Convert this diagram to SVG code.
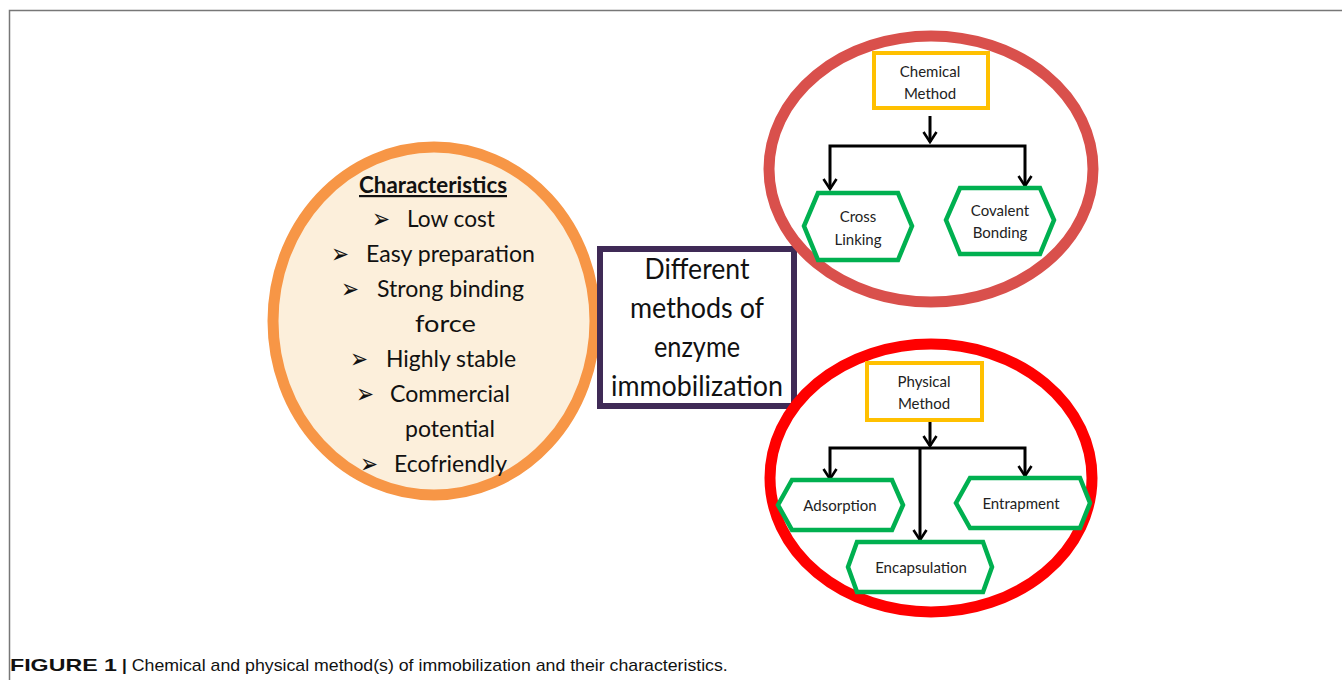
<svg xmlns="http://www.w3.org/2000/svg" width="1342" height="680" viewBox="0 0 1342 680">
<defs>
<style>
.t{font-family:Lato,"Open Sans","Liberation Sans",sans-serif;fill:#111}
.c{font-size:24px}
.b{font-family:"DejaVu Sans",sans-serif;font-size:27px;fill:#111}
.s{font-size:15px;fill:#222;text-anchor:middle}
.ybox{fill:#fff;stroke:#FFC000;stroke-width:4}
.hex{fill:#fff;stroke:#00B050;stroke-width:4.5;stroke-linejoin:miter}
.ln{fill:none;stroke:#000;stroke-width:3}
</style>
<marker id="ah" viewBox="0 0 16 16" refX="14" refY="8" markerWidth="16" markerHeight="16" markerUnits="userSpaceOnUse" orient="auto-start-reverse">
<path d="M4,1.5 L14,8 L4,14.5" fill="none" stroke="#000" stroke-width="2.6"/>
</marker>
</defs>
<rect width="1342" height="680" fill="#fff"/>
<path d="M9.5,680 V10.5 H1342" fill="none" stroke="#777" stroke-width="1.5"/>

<g id="characteristics">
<ellipse cx="434" cy="321" rx="161" ry="174" fill="#FCEFDB" stroke="#F79646" stroke-width="11"/>
<text class="t" x="433" y="193" font-size="22" font-weight="bold" text-anchor="middle" text-decoration="underline" textLength="148" lengthAdjust="spacingAndGlyphs">Characteristics</text>
<text class="b" x="372" y="228" textLength="18" lengthAdjust="spacingAndGlyphs">➢</text><text class="t c" x="407" y="227" textLength="88" lengthAdjust="spacingAndGlyphs">Low cost</text>
<text class="b" x="331" y="263" textLength="18" lengthAdjust="spacingAndGlyphs">➢</text><text class="t c" x="366" y="262" textLength="169" lengthAdjust="spacingAndGlyphs">Easy preparation</text>
<text class="b" x="341" y="298" textLength="18" lengthAdjust="spacingAndGlyphs">➢</text><text class="t c" x="377" y="297" textLength="147" lengthAdjust="spacingAndGlyphs">Strong binding</text>
<text class="t c" x="415" y="332" textLength="61" lengthAdjust="spacingAndGlyphs">force</text>
<text class="b" x="350" y="368" textLength="18" lengthAdjust="spacingAndGlyphs">➢</text><text class="t c" x="386" y="367" textLength="130" lengthAdjust="spacingAndGlyphs">Highly stable</text>
<text class="b" x="356" y="403" textLength="18" lengthAdjust="spacingAndGlyphs">➢</text><text class="t c" x="390" y="402" textLength="120" lengthAdjust="spacingAndGlyphs">Commercial</text>
<text class="t c" x="405" y="437" textLength="90" lengthAdjust="spacingAndGlyphs">potential</text>
<text class="b" x="360" y="473" textLength="18" lengthAdjust="spacingAndGlyphs">➢</text><text class="t c" x="394" y="472" textLength="113" lengthAdjust="spacingAndGlyphs">Ecofriendly</text>
</g>

<g id="center">
<rect x="600" y="249" width="194" height="157" fill="#fff" stroke="#3F2A56" stroke-width="6"/>
<text class="t" font-size="28" text-anchor="middle"><tspan x="697" y="279" textLength="105" lengthAdjust="spacingAndGlyphs">Different</tspan><tspan x="697" y="318" textLength="134" lengthAdjust="spacingAndGlyphs">methods of</tspan><tspan x="697" y="357" textLength="86" lengthAdjust="spacingAndGlyphs">enzyme</tspan><tspan x="697" y="396" textLength="172" lengthAdjust="spacingAndGlyphs">immobilization</tspan></text>
</g>

<g id="chemical-group">
<ellipse cx="931" cy="169" rx="162" ry="133" fill="#fff" stroke="#D9504C" stroke-width="11"/>
</g>
<g id="physical-group">
<ellipse cx="931" cy="478" rx="161" ry="134" fill="#fff" stroke="#FF0000" stroke-width="11"/>
</g>

<g id="connectors">
<path class="ln" d="M930,116 V142" marker-end="url(#ah)"/>
<path class="ln" d="M830,189 V146 H1025 V186" marker-start="url(#ah)" marker-end="url(#ah)"/>
<path class="ln" d="M930,420 V446" marker-end="url(#ah)"/>
<path class="ln" d="M830,479 V448 H1025 V476" marker-start="url(#ah)" marker-end="url(#ah)"/>
<path class="ln" d="M920,448 V540" marker-end="url(#ah)"/>
</g>

<g id="chemical-method">
<rect class="ybox" x="874" y="53" width="114" height="55"/>
<text class="t s"><tspan x="930" y="77">Chemical</tspan><tspan x="930" y="99">Method</tspan></text>
</g>
<g id="cross-linking">
<polygon class="hex" points="818,193 898,193 912,226 898,260 818,260 804,226"/>
<text class="t s"><tspan x="858" y="222">Cross</tspan><tspan x="858" y="245">Linking</tspan></text>
</g>
<g id="covalent-bonding">
<polygon class="hex" points="960,188 1040,188 1054,220 1040,254 960,254 946,220"/>
<text class="t s"><tspan x="1000" y="216">Covalent</tspan><tspan x="1000" y="238">Bonding</tspan></text>
</g>

<g id="physical-method">
<rect class="ybox" x="867" y="363" width="115" height="57"/>
<text class="t s"><tspan x="924" y="387">Physical</tspan><tspan x="924" y="409">Method</tspan></text>
</g>
<g id="adsorption">
<polygon class="hex" points="792,480 892,480 903,505 892,530 792,530 778,505"/>
<text class="t s" x="840" y="511">Adsorption</text>
</g>
<g id="entrapment">
<polygon class="hex" points="970,478 1080,478 1090,503 1080,528 970,528 956,503"/>
<text class="t s" x="1021" y="509">Entrapment</text>
</g>
<g id="encapsulation">
<polygon class="hex" points="857,542 983,542 992,567 983,592 857,592 848,567"/>
<text class="t s" x="921" y="573">Encapsulation</text>
</g>

<g id="caption">
<text x="10" y="671" font-family="'Liberation Sans',Arial,sans-serif" font-size="17" fill="#111"><tspan font-weight="bold" textLength="107" lengthAdjust="spacingAndGlyphs">FIGURE 1</tspan><tspan font-weight="bold" dx="5">|</tspan><tspan dx="5" textLength="596" lengthAdjust="spacingAndGlyphs">Chemical and physical method(s) of immobilization and their characteristics.</tspan></text>
</g>
</svg>
